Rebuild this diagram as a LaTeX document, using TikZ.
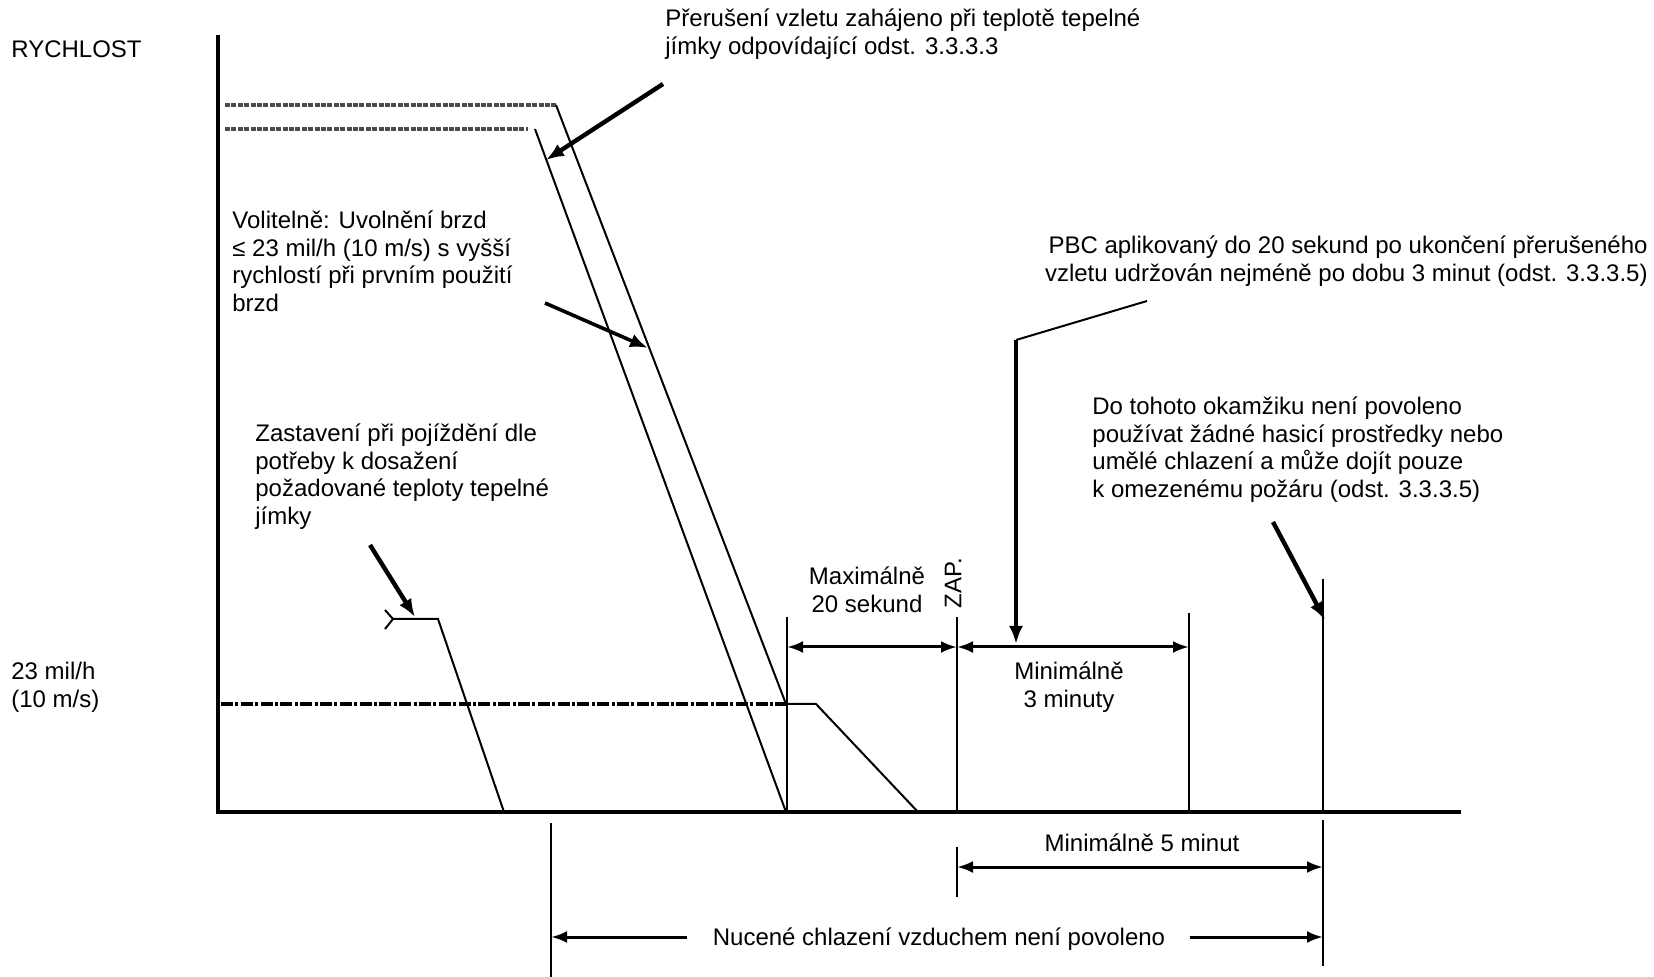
\documentclass[tikz,border=0pt]{standalone}
\usepackage{fontspec}
\setmainfont{Liberation Sans}
\usetikzlibrary{arrows.meta,calc}

\begin{document}
\begin{tikzpicture}[
  x=0.5pt, y=-0.5pt,
  lbl/.style ={font=\fontsize{12}{13.75}\selectfont, inner sep=0pt, align=left},
  axis/.style={line width=1.8pt},
  ln/.style  ={line width=1pt},
  vline/.style={line width=1.4pt},
  dotln/.style={line width=1.6pt, black!70, dash pattern=on 2.5pt off 0.7pt},
  dashdot/.style={line width=1.6pt, dash pattern=on 6pt off 1.2pt on 1.5pt off 1.2pt},
  dim/.style ={line width=1.5pt, {Latex[length=8pt,width=6pt]}-{Latex[length=8pt,width=6pt]}},
  ar/.style  ={line width=2.2pt, -{Latex[length=9pt,width=7pt]}},
]
  \useasboundingbox (0,0) rectangle (1654,977);

  % ---- texts (base = last line) ----
  \node[lbl, anchor=base west] (rychlost) at (11,58) {RYCHLOST};
  \node[lbl, anchor=base west] (mil) at (11,707.5) {23 mil/h\\(10 m/s)};
  \node[lbl, anchor=base west] (preruseni) at (665,54.5)
    {Přerušení vzletu zahájeno při teplotě tepelné\\jímky odpovídající odst. 3.3.3.3};
  \node[lbl, anchor=base west] (volitelne) at (232,311.5)
    {Volitelně: Uvolnění brzd\\≤ 23 mil/h (10 m/s) s vyšší\\rychlostí při prvním použití\\brzd};
  \node[lbl, anchor=base west] (zastaveni) at (255,524.5)
    {Zastavení při pojíždění dle\\potřeby k dosažení\\požadované teploty tepelné\\jímky};
  \node[lbl, anchor=base east, align=right] (pbc) at (1648,281.5)
    {PBC aplikovaný do 20 sekund po ukončení přerušeného\\vzletu udržován nejméně po dobu 3 minut (odst. 3.3.3.5)};
  \node[lbl, anchor=base west] (dotohoto) at (1092,497.5)
    {Do tohoto okamžiku není povoleno\\používat žádné hasicí prostředky nebo\\umělé chlazení a může dojít pouze\\k omezenému požáru (odst. 3.3.3.5)};
  \node[lbl, anchor=base, align=center] (maxim) at (867,612.5) {Maximálně\\20 sekund};
  \node[lbl, rotate=90] (zap) at (953,583) {ZAP.};
  \node[lbl, anchor=base, align=center] (min3) at (1069,707.5) {Minimálně\\3 minuty};
  \node[lbl, anchor=base] (min5) at (1142,851) {Minimálně 5 minut};
  \node[lbl, anchor=base] (nucene) at (939,945) {Nucené chlazení vzduchem není povoleno};

  % ---- axes ----
  \coordinate (o) at (218,812);
  \coordinate (ytop) at (218,35);
  \coordinate (xend) at (1461,812);
  \draw[axis] (ytop) -- (o) -- (xend);

  % ---- speed traces ----
  \coordinate (h1a) at (225,105);
  \coordinate (h1b) at (556,105);
  \coordinate (h2a) at (225,129);
  \coordinate (h2b) at (528,129);
  \coordinate (d2a) at (535,129);
  \coordinate (a1) at (786,704);
  \coordinate (a2) at (786,812);
  \draw[dotln] (h1a) -- (h1b);
  \draw[dotln] (h2a) -- (h2b);
  \draw[ln] (h1b) -- (a1);
  \draw[ln] (d2a) -- (a2);

  \coordinate (m0) at (221,704);
  \coordinate (k1) at (816,704);
  \coordinate (k2) at (918,812);
  \draw[dashdot] (m0) -- (a1);
  \draw[ln] (a1) -- (k1) -- (k2);

  % taxi stop
  \coordinate (t0) at (393,619);
  \coordinate (t1) at (438,619);
  \coordinate (t2) at (504,812);
  \draw[ln] (t0) -- (t1) -- (t2);
  \draw[ln] ($(t0)+(-8,-9)$) -- (t0) -- ($(t0)+(-8,10)$);

  % ---- time marks ----
  \coordinate (v1) at (787,617);
  \coordinate (v2) at (957,617);
  \coordinate (v3) at (1189,613);
  \coordinate (v4) at (1323,579);
  \draw[vline] (v1) -- (v1 |- o);
  \draw[vline] (v2) -- (v2 |- o);
  \draw[vline] (v3) -- (v3 |- o);
  \draw[vline] (v4) -- (v4 |- o);

  \coordinate (w1) at (551,823);
  \coordinate (w2) at (957,847);
  \coordinate (w3) at (1323,820);
  \draw[vline] (w1) -- (551,977);
  \draw[vline] (w2) -- (957,897);
  \draw[vline] (w3) -- (1323,966);

  % ---- durations ----
  \coordinate (p1) at (787,647);
  \draw[dim] (p1) -- (p1 -| v2);
  \draw[dim] (p1 -| v2) -- (p1 -| v3);
  \coordinate (p5) at (957,867);
  \draw[dim] (p5) -- (p5 -| v4);
  \draw[dim, -{Latex[length=8pt,width=6pt]}] ([xshift=-12.5pt]nucene.west |- 0,937) -- (w1 |- 0,937);
  \draw[dim, -{Latex[length=8pt,width=6pt]}] ([xshift=12pt]nucene.east |- 0,937) -- (w3 |- 0,937);

  % ---- leaders ----
  \coordinate (q1) at (663,84);
  \coordinate (q1t) at (546,160);
  \draw[ar] (q1) -- (q1t);
  \coordinate (q2) at (545,303);
  \coordinate (q2t) at (648,348);
  \draw[ar, line width=1.8pt] (q2) -- (q2t);
  \coordinate (q3) at (370,545);
  \draw[ar] (q3) -- (415,617);
  \coordinate (q4) at (1147,301);
  \coordinate (q4k) at (1016,340);
  \draw[ln] (q4) -- (q4k);
  \draw[ar, line width=1.8pt] (q4k) -- (1016,644);
  \coordinate (q5) at (1273,522);
  \draw[ar] (q5) -- (1325,620);
\end{tikzpicture}
\end{document}
